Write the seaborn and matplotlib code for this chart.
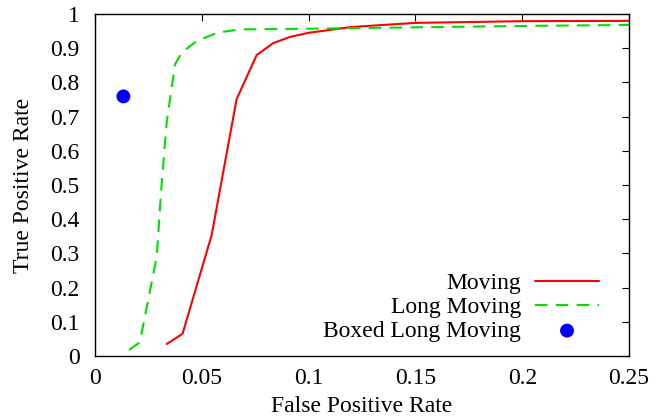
import numpy as np
import pandas as pd
import matplotlib
matplotlib.use("Agg")
import matplotlib.pyplot as plt
import seaborn as sns

# ROC curves
moving_fpr = [0.0336, 0.041, 0.0546, 0.0663, 0.0757, 0.0835, 0.0913, 0.10, 0.12, 0.15, 0.20, 0.25]
moving_tpr = [0.035, 0.065, 0.353, 0.751, 0.880, 0.915, 0.933, 0.945, 0.962, 0.974, 0.979, 0.980]

long_fpr = [0.016, 0.021, 0.0289, 0.0312, 0.0336, 0.0375, 0.0406, 0.0476, 0.0577, 0.068, 0.10, 0.15, 0.20, 0.25]
long_tpr = [0.018, 0.040, 0.290, 0.503, 0.685, 0.853, 0.887, 0.921, 0.946, 0.955, 0.957, 0.961, 0.965, 0.968]

boxed_fpr = [0.0133]
boxed_tpr = [0.759]

x_ticks = [0, 0.05, 0.1, 0.15, 0.2, 0.25]
y_ticks = [0, 0.1, 0.2, 0.3, 0.4, 0.5, 0.6, 0.7, 0.8, 0.9, 1]

sns.set_theme(style="white")
plt.rcParams['font.family'] = ['Liberation Serif', 'DejaVu Serif']
plt.rcParams['text.color'] = 'black'
plt.rcParams['axes.labelcolor'] = 'black'

fig = plt.figure(figsize=(6.61, 4.19), dpi=100)
ax = fig.add_axes([0.1437, 0.1504, 0.808, 0.8162])

sns.lineplot(x=moving_fpr, y=moving_tpr, ax=ax, color='#ff0000', lw=1.5,
             sort=False, estimator=None, label='Moving')
sns.lineplot(x=long_fpr, y=long_tpr, ax=ax, color='#00e000', lw=1.5,
             sort=False, estimator=None, label='Long Moving')
ax.lines[-1].set_dashes([6, 4])
sns.scatterplot(x=boxed_fpr, y=boxed_tpr, ax=ax, color='#0000ff', s=100,
                edgecolor='none', label='Boxed Long Moving', zorder=5)

ax.set_xlim(0, 0.25)
ax.set_ylim(0, 1)
ax.set_xticks(x_ticks)
ax.set_xticklabels([f"{t:g}" for t in x_ticks])
ax.set_yticks(y_ticks)
ax.set_yticklabels([f"{t:g}" for t in y_ticks])
ax.tick_params(direction='in', top=True, right=True, length=5, width=0.8,
               labelsize=17, colors='black')
ax.tick_params(axis='x', pad=9)
ax.tick_params(axis='y', pad=11)
for s in ax.spines.values():
    s.set_color('black')
    s.set_linewidth(1.0)

ax.set_xlabel('False Positive Rate', fontsize=17, labelpad=5, color='black')
ax.set_ylabel('True Positive Rate', fontsize=17, labelpad=12, color='black')

leg = ax.legend(loc='lower right', frameon=False, markerfirst=False, fontsize=17,
                handlelength=2.7, labelspacing=0.1, borderaxespad=0.2,
                handletextpad=0.6, bbox_to_anchor=(0.97, 0.0))
for t in leg.get_texts():
    t.set_ha('right')
    t.set_color('black')
leg._legend_box.align = 'right'

fig.savefig('out.png', dpi=100)
